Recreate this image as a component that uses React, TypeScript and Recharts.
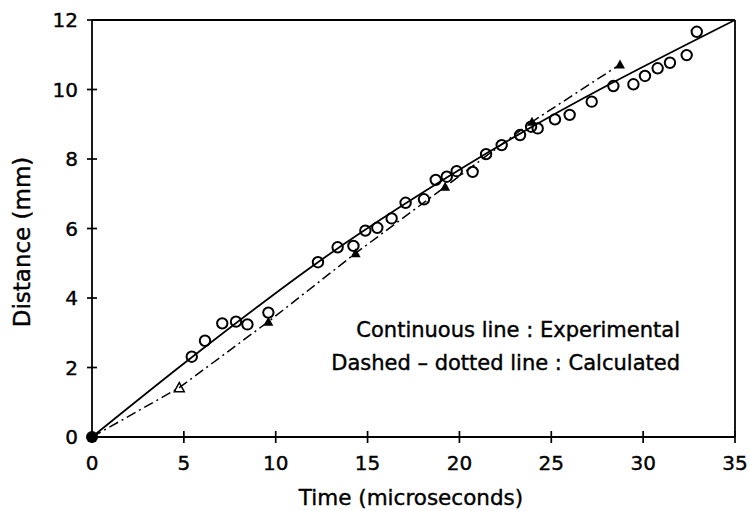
import {
  ComposedChart,
  Line,
  Scatter,
  XAxis,
  YAxis,
  ReferenceLine,
} from 'recharts'

// measured points (open circles)
const measT = [
  5.43, 6.15, 7.09, 7.84, 8.46, 9.6, 12.3, 13.37, 14.23, 14.88, 15.53, 16.31, 17.07, 18.07,
  18.71, 19.31, 19.85, 20.72, 21.45, 22.3, 23.3, 23.9, 24.26, 25.2, 26.0, 27.2, 28.38, 29.47,
  30.1, 30.79, 31.46, 32.37, 32.92,
]
const measD = [
  2.31, 2.77, 3.27, 3.32, 3.24, 3.58, 5.03, 5.46, 5.5, 5.94, 6.02, 6.29, 6.74, 6.84, 7.4,
  7.49, 7.65, 7.63, 8.14, 8.4, 8.69, 8.93, 8.88, 9.14, 9.27, 9.65, 10.1, 10.15, 10.39, 10.61,
  10.77, 10.99, 11.66,
]

// experimental fit (continuous line)
const expT = [0, 5.4, 12.3, 21.5, 35]
const expD = [0, 2.28, 5.03, 8.17, 12]

// calculated (dashed - dotted line, triangles)
const calcT = [0, 4.75, 9.6, 14.35, 19.22, 23.95, 28.74]
const calcD = [0, 1.42, 3.32, 5.29, 7.2, 9.07, 10.72]
const calcMark = ['none', 'open', 'filled', 'filled', 'filled', 'filled', 'filled']

const xTicks = [0, 5, 10, 15, 20, 25, 30, 35]
const yTicks = [0, 2, 4, 6, 8, 10, 12]

const measured = measT.map((t, i) => ({ t, d: measD[i] }))
const expCurve = expT.map((t, i) => ({ t, d: expD[i] }))
const calc = calcT.map((t, i) => ({ t, d: calcD[i], mark: calcMark[i] }))
const origin = [{ t: 0, d: 0 }]

const FONT = '"DejaVu Sans", sans-serif'
// the scanned lettering is a bit heavier than DejaVu Book
const heavy = { stroke: '#000', strokeWidth: 0.4 }

function XTick({ x, y, payload }: any) {
  const axisY = y - 19
  return (
    <g>
      <line x1={x} x2={x} y1={axisY - 6} y2={axisY + 6} stroke="#000" strokeWidth={1.7} />
      <text x={x} y={y} dy="0.71em" textAnchor="middle" fontSize={20} fontFamily={FONT} fill="#000" {...heavy}>
        {payload.value}
      </text>
    </g>
  )
}

function YTick({ x, y, payload }: any) {
  const axisX = x + 14
  return (
    <g>
      <line x1={axisX - 5} x2={axisX + 5} y1={y} y2={y} stroke="#000" strokeWidth={1.7} />
      <text x={x} y={y} dy="0.36em" textAnchor="end" fontSize={20} fontFamily={FONT} fill="#000" {...heavy}>
        {payload.value}
      </text>
    </g>
  )
}

function Triangle({ cx, cy, payload }: any) {
  if (!payload || payload.mark === 'none') return <g />
  const s = 5
  const pts = `${cx},${cy - s} ${cx - s},${cy + s * 0.8} ${cx + s},${cy + s * 0.8}`
  return payload.mark === 'open' ? (
    <polygon points={pts} fill="none" stroke="#000" strokeWidth={1.5} />
  ) : (
    <polygon points={pts} fill="#000" />
  )
}

export default function App() {
  return (
    <div style={{ position: 'absolute', left: 0, top: 0, width: 750, height: 511, background: '#fff' }}>
      <ComposedChart
        width={750}
        height={511}
        margin={{ top: 20, right: 15, bottom: 34, left: 32 }}
      >
        <XAxis
          type="number"
          dataKey="t"
          domain={[0, 35]}
          ticks={xTicks}
          tickLine={false}
          tickSize={6}
          tickMargin={13}
          height={40}
          axisLine={{ stroke: '#000', strokeWidth: 1.8 }}
          tick={<XTick />}
        />
        <YAxis
          type="number"
          dataKey="d"
          domain={[0, 12]}
          ticks={yTicks}
          tickLine={false}
          tickSize={5}
          tickMargin={9}
          width={60}
          axisLine={{ stroke: '#000', strokeWidth: 1.8 }}
          tick={<YTick />}
        />
        <ReferenceLine y={12} stroke="#000" strokeWidth={1.8} />
        <ReferenceLine x={35} stroke="#000" strokeWidth={1.8} />
        <Line
          data={expCurve}
          dataKey="d"
          type="monotone"
          stroke="#000"
          strokeWidth={1.8}
          dot={false}
          activeDot={false}
          isAnimationActive={false}
        />
        <Line
          data={calc}
          dataKey="d"
          type="linear"
          stroke="#000"
          strokeWidth={1.5}
          strokeDasharray="10 4 2 4"
          dot={<Triangle />}
          activeDot={false}
          isAnimationActive={false}
        />
        <Scatter
          data={measured}
          dataKey="d"
          isAnimationActive={false}
          shape={(p: any) => (
            <circle cx={p.cx} cy={p.cy} r={5.2} fill="none" stroke="#000" strokeWidth={2} />
          )}
        />
        <Scatter
          data={origin}
          dataKey="d"
          isAnimationActive={false}
          shape={(p: any) => <circle cx={p.cx} cy={p.cy} r={6} fill="#000" />}
        />
      </ComposedChart>
      <svg
        width={750}
        height={511}
        style={{ position: 'absolute', left: 0, top: 0, pointerEvents: 'none' }}
        fontFamily={FONT}
      >
        <g {...heavy}>
          <text x={680} y={329} dy="0.36em" textAnchor="end" fontSize={21}>
            Continuous line : Experimental
          </text>
          <text x={680} y={362} dy="0.36em" textAnchor="end" fontSize={21}>
            Dashed – dotted line : Calculated
          </text>
          <text x={411} y={497} dy="0.36em" textAnchor="middle" fontSize={21.5}>
            Time (microseconds)
          </text>
          <text
            x={22}
            y={242}
            dy="0.36em"
            textAnchor="middle"
            fontSize={23}
            transform="rotate(-90 22 242)"
          >
            Distance (mm)
          </text>
        </g>
      </svg>
    </div>
  )
}
